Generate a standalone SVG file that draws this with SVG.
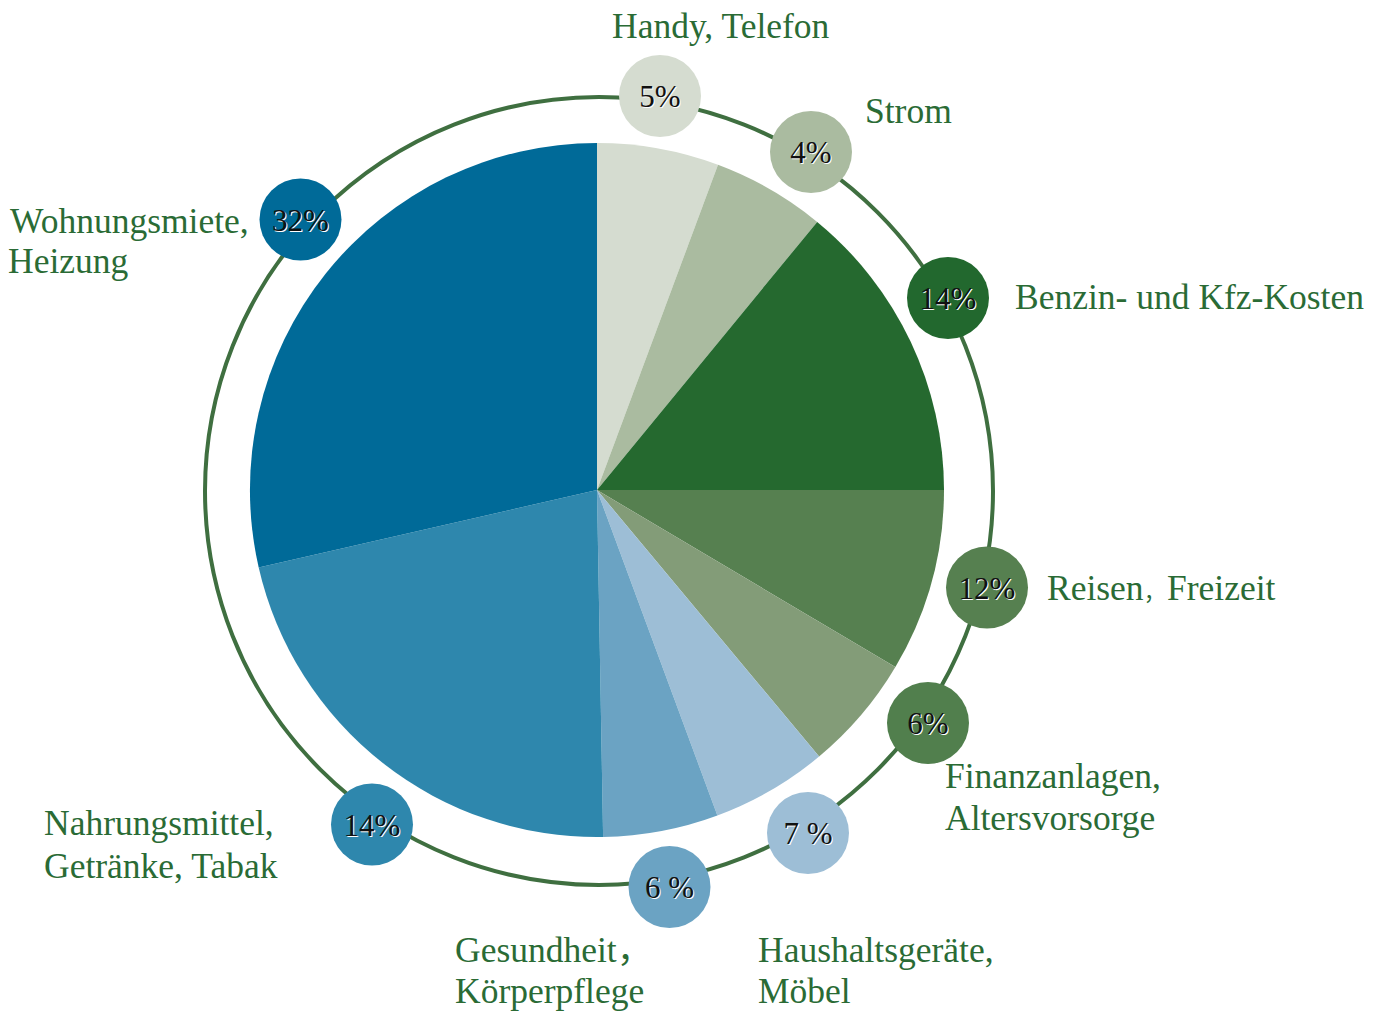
<svg xmlns="http://www.w3.org/2000/svg" width="1375" height="1014" viewBox="0 0 1375 1014">
<style>
  .lbl { font-family: "Liberation Serif", "Noto Sans CJK SC", serif; font-size: 35.5px; fill: #2a6b35; }
  .pct { font-family: "Liberation Serif", serif; font-size: 31px; text-anchor: middle; }
  .pct .sh { fill: #ffffff; }
  .pct .fg { fill: #111111; }
  .ring { fill: none; stroke: #3f6f40; stroke-width: 4; }
</style>
<rect width="1375" height="1014" fill="#ffffff"/>
<g id="connectors">
  <circle class="ring" cx="599" cy="491" r="394"/>
</g>
<g id="pie">
  <path id="slice-handy" d="M597,490 L597,143 A347,347 0 0 1 718,164.8 Z" fill="#d5dcd0"/>
  <path id="slice-strom" d="M597,490 L718,164.8 A347,347 0 0 1 817.2,221.9 Z" fill="#aabba0"/>
  <path id="slice-benzin" d="M597,490 L817.2,221.9 A347,347 0 0 1 944,490 Z" fill="#25692f"/>
  <path id="slice-reisen" d="M597,490 L944,490 A347,347 0 0 1 895.4,667.1 Z" fill="#568050"/>
  <path id="slice-finanz" d="M597,490 L895.4,667.1 A347,347 0 0 1 819.1,756.6 Z" fill="#839c78"/>
  <path id="slice-haushalt" d="M597,490 L819.1,756.6 A347,347 0 0 1 717.4,815.5 Z" fill="#9dbed6"/>
  <path id="slice-gesund" d="M597,490 L717.4,815.5 A347,347 0 0 1 603.1,837 Z" fill="#6ba3c3"/>
  <path id="slice-nahrung" d="M597,490 L603.1,837 A347,347 0 0 1 258.7,567.5 Z" fill="#2e87ad"/>
  <path id="slice-wohnung" d="M597,490 L258.7,567.5 A347,347 0 0 1 597,143 Z" fill="#006a98"/>
</g>
<g id="node-handy">
  <circle cx="660" cy="96" r="41" fill="#d5dcd0"/>
  <g class="pct"><text class="sh" x="661" y="108">5%</text><text class="fg" x="660" y="107">5%</text></g>
  <text class="lbl" x="612" y="38">Handy, Telefon</text>
</g>
<g id="node-strom">
  <circle cx="811" cy="152" r="41" fill="#aabba0"/>
  <g class="pct"><text class="sh" x="812" y="164">4%</text><text class="fg" x="811" y="163">4%</text></g>
  <text class="lbl" x="865" y="123">Strom</text>
</g>
<g id="node-benzin">
  <circle cx="948" cy="298" r="41" fill="#22682e"/>
  <g class="pct"><text class="sh" x="949" y="310">14%</text><text class="fg" x="948" y="309">14%</text></g>
  <text class="lbl" x="1015" y="309">Benzin- und Kfz-Kosten</text>
</g>
<g id="node-reisen">
  <circle cx="987" cy="587.5" r="41" fill="#568050"/>
  <g class="pct"><text class="sh" x="988" y="600">12%</text><text class="fg" x="987" y="599">12%</text></g>
  <text class="lbl" x="1047" y="600">Reisen<tspan style="font-size:22px">，</tspan><tspan x="1167">Freizeit</tspan></text>
</g>
<g id="node-finanz">
  <circle cx="928" cy="723" r="41" fill="#517f4d"/>
  <g class="pct"><text class="sh" x="929" y="735">6%</text><text class="fg" x="928" y="734">6%</text></g>
  <text class="lbl" x="945" y="788">Finanzanlagen,</text>
  <text class="lbl" x="945" y="830">Altersvorsorge</text>
</g>
<g id="node-haushalt">
  <circle cx="808" cy="833" r="41" fill="#9dbed6"/>
  <g class="pct"><text class="sh" x="809" y="845">7 %</text><text class="fg" x="808" y="844">7 %</text></g>
  <text class="lbl" x="758" y="962">Haushaltsgeräte,</text>
  <text class="lbl" x="758" y="1003">Möbel</text>
</g>
<g id="node-gesund">
  <circle cx="669.5" cy="887" r="41" fill="#6ba3c3"/>
  <g class="pct"><text class="sh" x="670.5" y="899">6 %</text><text class="fg" x="669.5" y="898">6 %</text></g>
  <text class="lbl" x="455" y="962">Gesundheit，</text>
  <text class="lbl" x="455" y="1003">Körperpflege</text>
</g>
<g id="node-nahrung">
  <circle cx="372" cy="824.5" r="41" fill="#2e87ad"/>
  <g class="pct"><text class="sh" x="373" y="837">14%</text><text class="fg" x="372" y="836">14%</text></g>
  <text class="lbl" x="44" y="835">Nahrungsmittel,</text>
  <text class="lbl" x="44" y="878">Getränke, Tabak</text>
</g>
<g id="node-wohnung">
  <circle cx="300.5" cy="219.5" r="41" fill="#006a98"/>
  <g class="pct"><text class="sh" x="301.5" y="232">32%</text><text class="fg" x="300.5" y="231">32%</text></g>
  <text class="lbl" x="10" y="233">Wohnungsmiete,</text>
  <text class="lbl" x="8" y="273">Heizung</text>
</g>
</svg>
